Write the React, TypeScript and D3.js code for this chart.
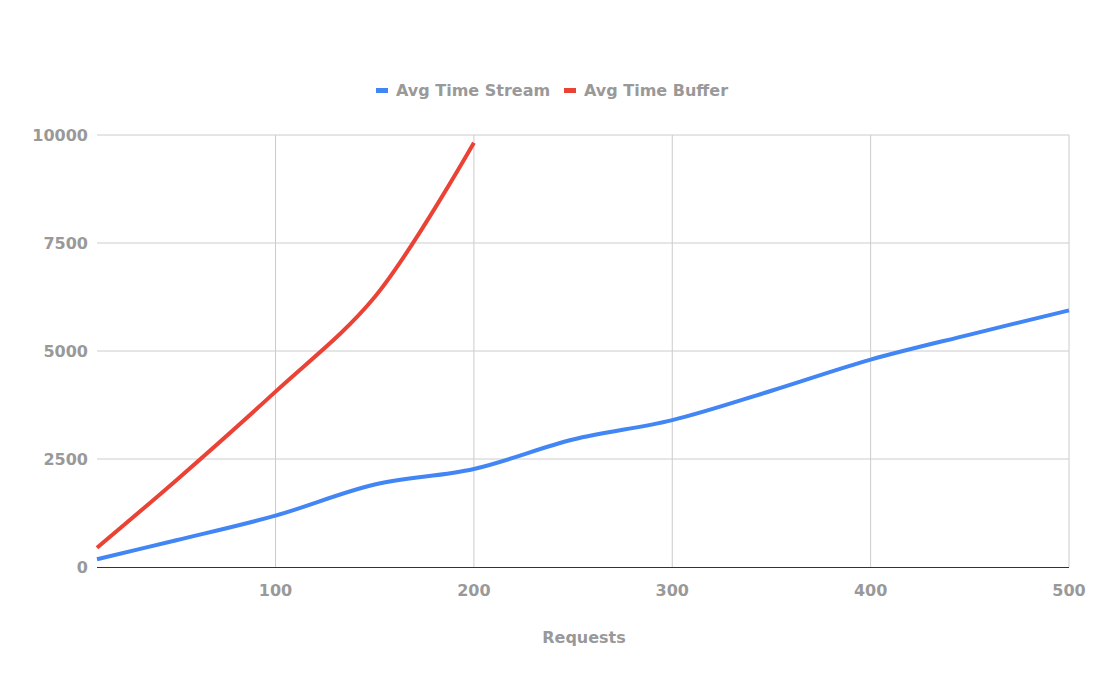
import React from "react";
import * as d3 from "d3";

const W = 1104;
const H = 682;

const streamX = [10, 50, 100, 150, 200, 250, 300, 350, 400, 450, 500];
const streamY = [180, 620, 1190, 1910, 2270, 2950, 3400, 4080, 4800, 5380, 5940];
const bufferX = [10, 50, 100, 150, 200];
const bufferY = [447, 2010, 4060, 6250, 9820];
const xTicks = [100, 200, 300, 400, 500];
const yTicks = [0, 2500, 5000, 7500, 10000];
const seriesNames = ["Avg Time Stream", "Avg Time Buffer"];
const seriesColors = ["#4285F4", "#EA4335"];

const FONT = "'DejaVu Sans', Verdana, sans-serif";
const TEXT = "#999999";

export default function App() {
  const x = d3.scaleLinear().domain([10, 500]).range([97, 1069]);
  const y = d3.scaleLinear().domain([0, 10000]).range([567, 135]);
  const line = d3
    .line<[number, number]>()
    .x((d) => x(d[0]))
    .y((d) => y(d[1]))
    .curve(d3.curveCatmullRom.alpha(0.5));
  const stream = streamX.map((v, i) => [v, streamY[i]] as [number, number]);
  const buffer = bufferX.map((v, i) => [v, bufferY[i]] as [number, number]);

  return (
    <div style={{ position: "absolute", left: 0, top: 0 }}>
      <svg width={W} height={H} style={{ display: "block", background: "#fff" }}>
        {yTicks.map((t) =>
          t === 0 ? null : (
            <line key={"gy" + t} x1={97} x2={1069} y1={y(t)} y2={y(t)} stroke="#cccccc" strokeWidth={1} />
          )
        )}
        {xTicks.map((t) => (
          <line key={"gx" + t} x1={x(t)} x2={x(t)} y1={135} y2={567} stroke="#cccccc" strokeWidth={1} />
        ))}
        <line x1={97} x2={1069} y1={567.5} y2={567.5} stroke="#333333" strokeWidth={1} />
        {yTicks.map((t) => (
          <text
            key={"ty" + t}
            x={88}
            y={y(t)}
            dy="0.35em"
            textAnchor="end"
            fontFamily={FONT}
            fontWeight="bold"
            fontSize={16}
            fill={TEXT}
          >
            {t}
          </text>
        ))}
        {xTicks.map((t) => (
          <text
            key={"tx" + t}
            x={x(t)}
            y={596}
            textAnchor="middle"
            fontFamily={FONT}
            fontWeight="bold"
            fontSize={16}
            fill={TEXT}
          >
            {t}
          </text>
        ))}
        <text x={584} y={643} textAnchor="middle" fontFamily={FONT} fontWeight="bold" fontSize={16} fill={TEXT}>
          Requests
        </text>
        <path d={line(stream) || ""} fill="none" stroke={seriesColors[0]} strokeWidth={4} strokeLinejoin="round" />
        <path d={line(buffer) || ""} fill="none" stroke={seriesColors[1]} strokeWidth={4} strokeLinejoin="round" />
        {seriesNames.map((n, i) => {
          const lx = i === 0 ? 376 : 564;
          return (
            <g key={n}>
              <rect x={lx} y={88} width={12} height={5} fill={seriesColors[i]} />
              <text x={lx + 20} y={96} fontFamily={FONT} fontWeight="bold" fontSize={16} fill={TEXT}>
                {n}
              </text>
            </g>
          );
        })}
      </svg>
    </div>
  );
}
